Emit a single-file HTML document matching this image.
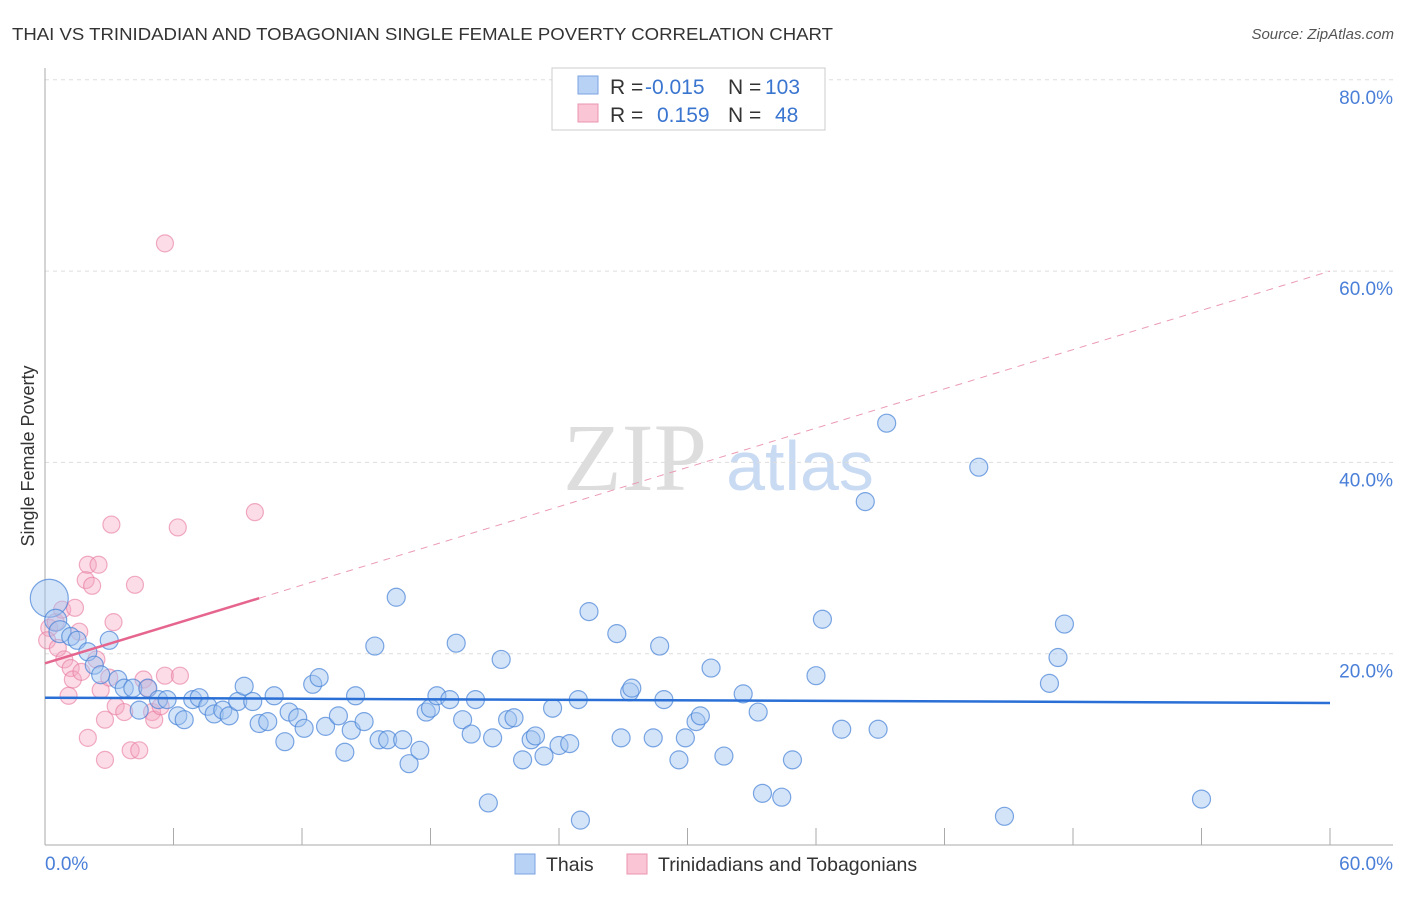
<!DOCTYPE html>
<html><head><meta charset="utf-8"><style>
body{margin:0;background:#fff;font-family:"Liberation Sans",sans-serif}
</style></head><body>
<svg id="chart" width="1406" height="892" xmlns="http://www.w3.org/2000/svg">
<text x="12" y="40" font-size="17.5" fill="#333" textLength="821" lengthAdjust="spacingAndGlyphs">THAI VS TRINIDADIAN AND TOBAGONIAN SINGLE FEMALE POVERTY CORRELATION CHART</text>
<text x="1394" y="39" font-size="15" fill="#555" font-style="italic" text-anchor="end">Source: ZipAtlas.com</text>
<text x="34" y="456" font-size="18" fill="#333" text-anchor="middle" transform="rotate(-90 34 456)">Single Female Poverty</text>
<g>
<text x="635" y="490" font-size="96" fill="#ddd" font-family="Liberation Serif" text-anchor="middle">ZIP</text>
<text x="800" y="490" font-size="70" fill="#c9daf3" text-anchor="middle">atlas</text>
</g>
<g id="grid"></g><g id="axes"></g><g id="pts"></g><g id="trend"></g>
<g>
<rect x="552" y="68" width="273" height="62" fill="#fff" stroke="#ccc"/>
<rect x="578" y="76" width="20" height="18" fill="#b8d2f5" stroke="#7aa3e0"/>
<rect x="578" y="104" width="20" height="18" fill="#fac6d6" stroke="#eb94b0"/>
<text x="610" y="94" font-size="21" fill="#333">R =</text><text x="645" y="94" font-size="21" fill="#3a75d0">-0.015</text>
<text x="728" y="94" font-size="21" fill="#333">N =</text><text x="765" y="94" font-size="21" fill="#3a75d0">103</text>
<text x="610" y="122" font-size="21" fill="#333">R =</text><text x="657" y="122" font-size="21" fill="#3a75d0">0.159</text>
<text x="728" y="122" font-size="21" fill="#333">N =</text><text x="775" y="122" font-size="21" fill="#3a75d0">48</text>
</g>
<g>
<rect x="515" y="854" width="20" height="20" fill="#b8d2f5" stroke="#7aa3e0"/>
<text x="546" y="871" font-size="19.5" fill="#333">Thais</text>
<rect x="627" y="854" width="20" height="20" fill="#fac6d6" stroke="#eb94b0"/>
<text x="658" y="871" font-size="19.5" fill="#333">Trinidadians and Tobagonians</text>
</g>
</svg>
<script>
const blueX=[0.2,0.5,0.7,1.2,1.5,2.0,2.3,2.6,3.0,3.4,3.7,4.1,4.4,4.8,5.3,5.7,6.2,6.5,6.9,7.2,7.6,7.9,8.3,8.6,9.0,9.3,9.7,10.0,10.4,10.7,11.2,11.4,11.8,12.1,12.5,12.8,13.1,13.7,14.0,14.3,14.5,14.9,15.4,15.6,16.0,16.4,16.7,17.0,17.5,17.8,18.0,18.3,18.9,19.2,19.5,19.9,20.1,20.7,20.9,21.3,21.6,21.9,22.3,22.7,22.9,23.3,23.7,24.0,24.5,24.9,25.0,25.4,26.7,26.9,27.3,27.4,28.4,28.7,28.9,29.6,29.9,30.4,30.6,31.1,31.7,32.6,33.3,33.5,34.4,34.9,36.0,36.3,37.2,38.3,38.9,39.3,43.6,44.8,46.9,47.3,47.6,54.0];
const blueY=[25.8,23.5,22.3,21.8,21.4,20.2,18.8,17.8,21.4,17.3,16.4,16.4,14.1,16.4,15.2,15.2,13.5,13.1,15.2,15.4,14.5,13.7,14.1,13.5,15.0,16.6,15.0,12.7,12.9,15.6,10.8,13.9,13.3,12.2,16.8,17.5,12.4,13.5,9.7,12.0,15.6,12.9,20.8,11.0,11.0,25.9,11.0,8.5,9.9,13.9,14.3,15.6,15.2,21.1,13.1,11.6,15.2,4.4,11.2,19.4,13.1,13.3,8.9,11.0,11.4,9.3,14.3,10.4,10.6,15.2,2.6,24.4,22.1,11.2,16.0,16.4,11.2,20.8,15.2,8.9,11.2,12.9,13.5,18.5,9.3,15.8,13.9,5.4,5.0,8.9,17.7,23.6,12.1,35.9,12.1,44.1,39.5,3.0,16.9,19.6,23.1,4.8];
const pinkX=[0.2,0.1,0.5,0.6,0.8,0.9,1.2,1.1,1.4,1.3,1.6,1.7,1.9,2.0,2.2,2.4,2.5,2.0,2.6,2.8,2.8,3.0,3.1,3.2,3.3,3.7,4.0,4.2,4.4,4.6,4.8,5.0,5.1,5.4,5.6,5.6,6.2,6.3,9.8];
const pinkY=[22.7,21.4,23.3,20.6,24.6,19.4,18.5,15.6,24.8,17.3,22.3,18.1,27.7,29.3,27.1,19.4,29.3,11.2,16.2,8.9,13.1,17.5,33.5,23.3,14.5,13.9,9.9,27.2,9.9,17.3,16.4,13.9,13.1,14.5,17.7,62.9,33.2,17.7,34.8];
const yTicks=[20,40,60,80];const yTickLabels=["20.0%","40.0%","60.0%","80.0%"];
const blueTrend=[15.4,14.85];const pinkTrend=[19.0,25.8,60.0];
const X=v=>45+v/60*1285, Y=v=>845-v/20*191.3;
const NS="http://www.w3.org/2000/svg";
function mk(t,a,p){const e=document.createElementNS(NS,t);for(const k in a)e.setAttribute(k,a[k]);p.appendChild(e);return e;}
const g=document.getElementById('grid'),ax=document.getElementById('axes'),pts=document.getElementById('pts'),tr=document.getElementById('trend');
yTicks.forEach((t,i)=>{const l=mk('line',{x1:45,x2:1393,y1:Y(t),y2:Y(t),stroke:'#ddd','stroke-dasharray':'4,4'},g);


const tx=mk('text',{x:1393,y:Y(t)+24,'font-size':19,fill:'#4a7fd8','text-anchor':'end'},g);tx.textContent=yTickLabels[i];

});
mk('line',{x1:45,x2:45,y1:68,y2:845,stroke:'#aaa'},ax);
mk('line',{x1:45,x2:1393,y1:845,y2:845,stroke:'#aaa'},ax);
for(let i=1;i<=10;i++){mk('line',{x1:45+i*128.5,x2:45+i*128.5,y1:828,y2:845,stroke:'#aaa'},ax);}
let t0=mk('text',{x:45,y:870,'font-size':19,fill:'#4a7fd8'},ax);t0.textContent='0.0%';


let t1=mk('text',{x:1393,y:870,'font-size':19,fill:'#4a7fd8','text-anchor':'end'},ax);t1.textContent='60.0%';


pinkX.forEach((x,i)=>{const c=mk('circle',{cx:X(x),cy:Y(pinkY[i]),r:8.5,fill:'rgba(246,168,194,0.4)',stroke:'rgba(232,120,158,0.6)','stroke-width':1.2},pts);

});
blueX.forEach((x,i)=>{const c=mk('circle',{cx:X(x),cy:Y(blueY[i]),r:i==0?19:i<3?11:9,fill:'rgba(160,195,240,0.45)',stroke:'rgba(70,130,215,0.7)','stroke-width':1.2},pts);

});
let bl=mk('line',{x1:X(0),x2:X(60),y1:Y(blueTrend[0]),y2:Y(blueTrend[1]),stroke:'#2a6fd6','stroke-width':2.5},tr);


let pl=mk('line',{x1:X(0),x2:X(10),y1:Y(pinkTrend[0]),y2:Y(pinkTrend[1]),stroke:'#e5658e','stroke-width':2.5},tr);


let pd=mk('line',{x1:X(10),x2:X(60),y1:Y(pinkTrend[1]),y2:Y(pinkTrend[2]),stroke:'#eb9ab4','stroke-width':1,'stroke-dasharray':'7,6'},tr);


</script>
</body></html>
